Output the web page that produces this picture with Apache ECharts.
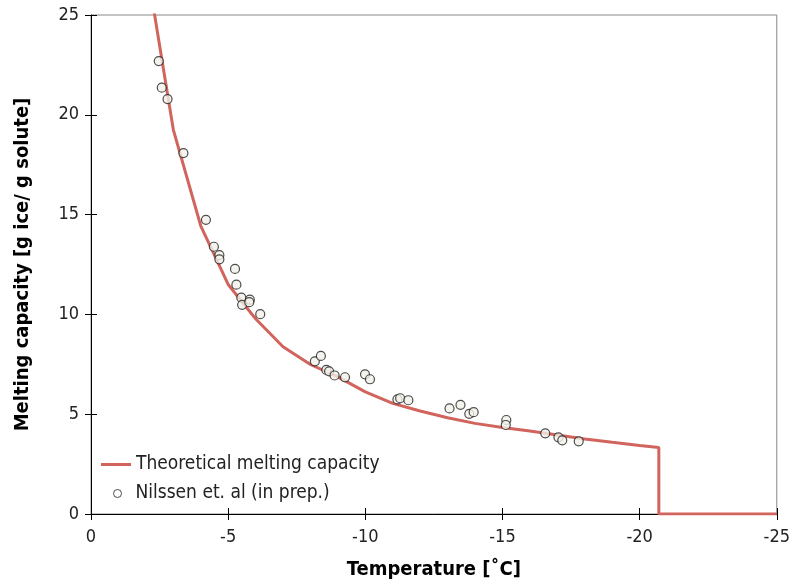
<!DOCTYPE html>
<html>
<head>
<meta charset="utf-8">
<script src="https://cdn.jsdelivr.net/npm/echarts@6/dist/echarts.min.js"></script>
<style>html,body{margin:0;padding:0;background:#fff}#c{width:793px;height:585px}</style>
</head>
<body>
<div id="c"></div>
<script>
// Theoretical melting capacity (temperature °C, g ice / g solute)
var theoryT = [-2, -3, -4, -5, -6, -7, -8, -9, -10, -11, -12, -13, -14, -15, -16, -17, -18, -19, -20, -20.7, -20.7, -25];
var theoryMC = [27.7, 19.26, 14.44, 11.5, 9.78, 8.38, 7.49, 6.87, 6.12, 5.54, 5.16, 4.82, 4.54, 4.33, 4.16, 3.96, 3.76, 3.59, 3.43, 3.33, 0, 0];
// Nilssen et. al (in prep.)
var obsT = [-2.47, -2.58, -2.79, -3.37, -4.19, -4.48, -4.68, -4.68, -5.25, -5.30, -5.48, -5.51, -5.79, -5.77, -6.17,
  -8.16, -8.38, -8.58, -8.68, -8.88, -9.26, -9.99, -10.17, -11.17, -11.27, -11.57, -13.07, -13.47, -13.79, -13.95,
  -15.14, -15.12, -16.56, -17.04, -17.18, -17.78];
var obsMC = [22.69, 21.36, 20.79, 18.08, 14.74, 13.39, 12.97, 12.76, 12.28, 11.49, 10.84, 10.48, 10.74, 10.61, 10.01,
  7.65, 7.92, 7.22, 7.15, 6.94, 6.85, 7.00, 6.75, 5.74, 5.80, 5.70, 5.29, 5.47, 5.02, 5.10,
  4.71, 4.46, 4.04, 3.84, 3.69, 3.64];
var xTicks = [0, -5, -10, -15, -20, -25];
var yTicks = [0, 5, 10, 15, 20, 25];

var FONT = '"DejaVu Sans Condensed", "Liberation Sans Narrow", "Open Sans", sans-serif';
var theory = theoryT.map(function (t, i) { return [t, theoryMC[i]]; });
var obs = obsT.map(function (t, i) { return [t, obsMC[i]]; });

var chart = echarts.init(document.getElementById('c'), null, {renderer: 'canvas'});
var axisBase = {
  type: 'value', interval: 5,
  splitLine: {show: false}
};
chart.setOption({
  animation: false,
  backgroundColor: '#fff',
  grid: {left: 91, right: 12, top: 15, bottom: 69, show: true, borderColor: '#888', borderWidth: 1, backgroundColor: 'transparent'},
  legend: [
    {data: [{name: 'Theoretical melting capacity', icon: 'rect'}], left: 101, top: 455, padding: 0, itemWidth: 30, itemHeight: 3,
      textStyle: {fontFamily: FONT, fontSize: 19, color: '#222'}},
    {data: [{name: 'Nilssen et. al (in prep.)', icon: 'circle', itemStyle: {color: '#fff', borderColor: '#222', borderWidth: 1}}],
      left: 113, top: 484, padding: 0, itemWidth: 8, itemHeight: 8,
      textStyle: {fontFamily: FONT, fontSize: 19, color: '#222', padding: [0, 0, 0, 9]}}
  ],
  xAxis: [
    Object.assign({}, axisBase, {
      min: -25, max: 0, inverse: true,
      name: 'Temperature [˚C]', nameLocation: 'middle', nameGap: 46,
      nameTextStyle: {fontFamily: FONT, fontSize: 20, fontWeight: 'bold', color: '#000'},
      axisLine: {show: true, onZero: false, lineStyle: {color: '#000', width: 1}},
      axisTick: {show: true, length: 6, lineStyle: {color: '#000'}},
      axisLabel: {fontFamily: FONT, fontSize: 18, color: '#222', margin: 14,
        formatter: function (v) { return xTicks.indexOf(v) >= 0 ? String(v) : ''; }}
    }),
    Object.assign({}, axisBase, {
      min: -25, max: 0, inverse: true, position: 'bottom',
      axisLine: {show: false},
      axisTick: {show: true, inside: true, length: 6, lineStyle: {color: '#000'}},
      axisLabel: {show: false}
    })
  ],
  yAxis: [
    Object.assign({}, axisBase, {
      min: 0, max: 25,
      name: 'Melting capacity [g ice/ g solute]', nameLocation: 'middle', nameGap: 58,
      nameTextStyle: {fontFamily: FONT, fontSize: 20, fontWeight: 'bold', color: '#000'},
      axisLine: {show: true, onZero: false, lineStyle: {color: '#000', width: 1}},
      axisTick: {show: true, length: 6, lineStyle: {color: '#000'}},
      axisLabel: {fontFamily: FONT, fontSize: 18, color: '#222', margin: 12,
        formatter: function (v) { return yTicks.indexOf(v) >= 0 ? String(v) : ''; }}
    }),
    Object.assign({}, axisBase, {
      min: 0, max: 25, position: 'left',
      axisLine: {show: false},
      axisTick: {show: true, inside: true, length: 6, lineStyle: {color: '#000'}},
      axisLabel: {show: false}
    })
  ],
  series: [
    {name: 'Theoretical melting capacity', type: 'line', data: theory, symbol: 'none', clip: true,
      lineStyle: {color: '#d1645c', width: 3}, itemStyle: {color: '#d1645c'}, z: 2},
    {name: 'Nilssen et. al (in prep.)', type: 'scatter', data: obs, symbol: 'circle', symbolSize: 9,
      itemStyle: {color: '#f1f0e8', borderColor: '#222', borderWidth: 1.2}, z: 3}
  ]
});
</script>
</body>
</html>
